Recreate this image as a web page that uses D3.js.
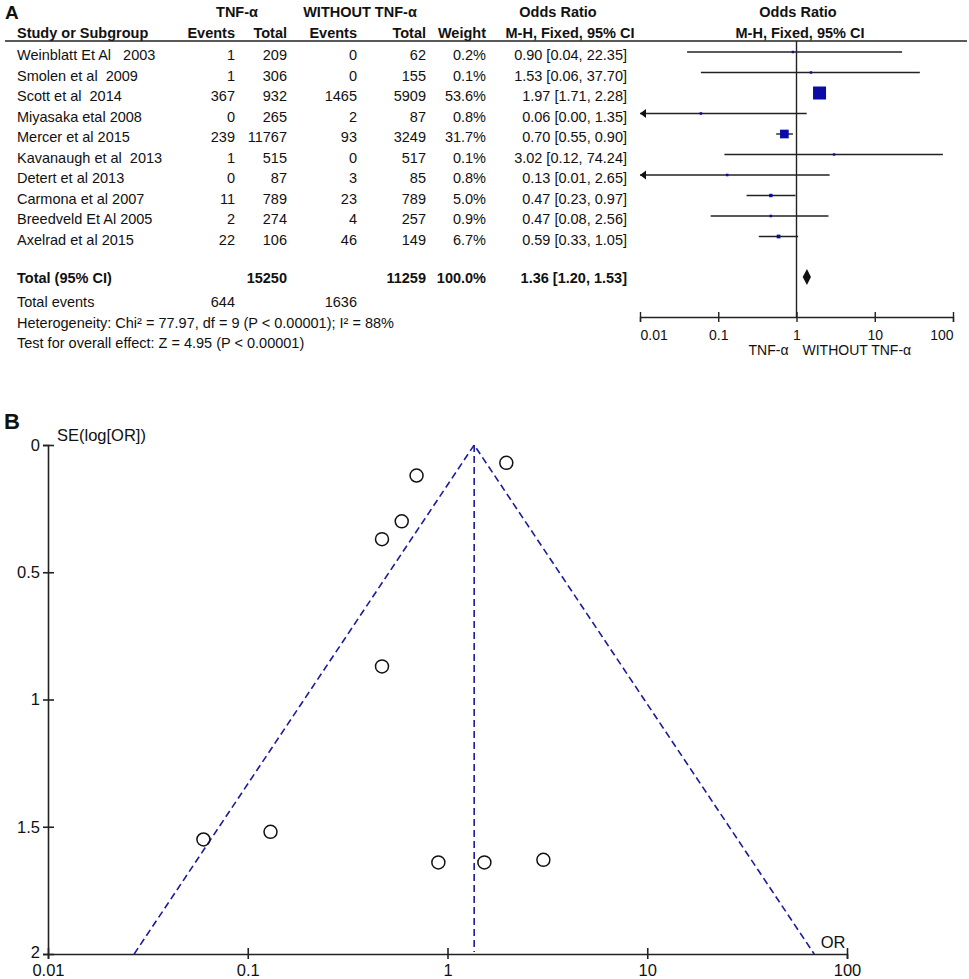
<!DOCTYPE html>
<html>
<head>
<meta charset="utf-8">
<script src="https://cdn.jsdelivr.net/npm/d3@7.9.0/dist/d3.min.js"></script>
<style>
  body { margin: 0; background: #fff; }
  svg { display: block; font-family: "Liberation Sans", Arial, sans-serif; }
</style>
</head>
<body>
<div id="chart"></div>
<script>
// --- data ---
const studies = [
  'Weinblatt Et Al   2003', 'Smolen et al  2009', 'Scott et al  2014',
  'Miyasaka etal 2008', 'Mercer et al 2015', 'Kavanaugh et al  2013',
  'Detert et al 2013', 'Carmona et al 2007', 'Breedveld Et Al 2005',
  'Axelrad et al 2015',
];
const tnfEvents = [1, 1, 367, 0, 239, 1, 0, 11, 2, 22];
const tnfTotal = [209, 306, 932, 265, 11767, 515, 87, 789, 274, 106];
const ctrlEvents = [0, 0, 1465, 2, 93, 0, 3, 23, 4, 46];
const ctrlTotal = [62, 155, 5909, 87, 3249, 517, 85, 789, 257, 149];
const weights = [0.2, 0.1, 53.6, 0.8, 31.7, 0.1, 0.8, 5.0, 0.9, 6.7];
const oddsRatio = [0.90, 1.53, 1.97, 0.06, 0.70, 3.02, 0.13, 0.47, 0.47, 0.59];
const ciLow = [0.04, 0.06, 1.71, 0.00, 0.55, 0.12, 0.01, 0.23, 0.08, 0.33];
const ciHigh = [22.35, 37.70, 2.28, 1.35, 0.90, 74.24, 2.65, 0.97, 2.56, 1.05];
const seLogOr = [1.64, 1.64, 0.07, 1.55, 0.12, 1.63, 1.52, 0.87, 0.37, 0.30];

const pooled = { or: 1.36, low: 1.20, high: 1.53 };
const totals = { tnfTotal: 15250, ctrlTotal: 11259, weight: '100.0%', tnfEvents: 644, ctrlEvents: 1636 };
const footer = [
  'Heterogeneity: Chi\u00b2 = 77.97, df = 9 (P < 0.00001); I\u00b2 = 88%',
  'Test for overall effect: Z = 4.95 (P < 0.00001)',
];
const forestTicks = [0.01, 0.1, 1, 10, 100];
const funnelXTicks = [0.01, 0.1, 1, 10, 100];
const funnelYTicks = [0, 0.5, 1, 1.5, 2];
const funnelOr = [0.027, 1.36, 68.5];
const funnelSe = [2, 0, 2];

const width = 969;
const height = 979;
const blue = '#0b0ba8';
const dashBlue = '#1b1b9e';

const svg = d3.select('#chart').append('svg')
  .attr('width', width)
  .attr('height', height);

// ================= Panel A : forest plot =================
const A = svg.append('g').attr('font-size', 14.5).attr('fill', '#111');

A.append('text').attr('x', 5).attr('y', 19).attr('font-size', 19)
  .attr('font-weight', 'bold').text('A');

const header1 = [
  { t: 'TNF-\u03b1', x: 237 },
  { t: 'WITHOUT TNF-\u03b1', x: 360 },
  { t: 'Odds Ratio', x: 558 },
  { t: 'Odds Ratio', x: 798 },
];
A.selectAll('.h1').data(header1).join('text')
  .attr('x', (d) => d.x).attr('y', 17)
  .attr('text-anchor', 'middle').attr('font-weight', 'bold')
  .text((d) => d.t);

const header2 = [
  { t: 'Study or Subgroup', x: 17, a: 'start' },
  { t: 'Events', x: 235, a: 'end' },
  { t: 'Total', x: 287, a: 'end' },
  { t: 'Events', x: 357, a: 'end' },
  { t: 'Total', x: 426, a: 'end' },
  { t: 'Weight', x: 486, a: 'end' },
  { t: 'M-H, Fixed, 95% CI', x: 570, a: 'middle' },
  { t: 'M-H, Fixed, 95% CI', x: 800, a: 'middle' },
];
A.selectAll('.h2').data(header2).join('text')
  .attr('x', (d) => d.x).attr('y', 37.5)
  .attr('text-anchor', (d) => d.a).attr('font-weight', 'bold')
  .text((d) => d.t);

A.append('line').attr('x1', 5).attr('x2', 967).attr('y1', 41).attr('y2', 41)
  .attr('stroke', '#222').attr('stroke-width', 1.6);

const rowBase = (i) => 60 + i * 20.5;
const rows = studies.map((s, i) => ({
  i, study: s,
  cells: [
    tnfEvents[i], tnfTotal[i], ctrlEvents[i], ctrlTotal[i],
    weights[i].toFixed(1) + '%',
    `${oddsRatio[i].toFixed(2)} [${ciLow[i].toFixed(2)}, ${ciHigh[i].toFixed(2)}]`,
  ],
}));
const colRight = [235, 287, 357, 426, 486, 627];

const rowG = A.selectAll('.row').data(rows).join('g')
  .attr('transform', (d) => `translate(0,${rowBase(d.i)})`);
rowG.append('text').attr('x', 17).text((d) => d.study)
  .style('white-space', 'pre');
rowG.selectAll('.cell').data((d) => d.cells).join('text')
  .attr('x', (d, j) => colRight[j]).attr('text-anchor', 'end')
  .text((d) => d);

const totalY = 283;
const totalCells = [
  { t: 'Total (95% CI)', x: 17, a: 'start' },
  { t: totals.tnfTotal, x: 287, a: 'end' },
  { t: totals.ctrlTotal, x: 426, a: 'end' },
  { t: totals.weight, x: 486, a: 'end' },
  { t: `${pooled.or.toFixed(2)} [${pooled.low.toFixed(2)}, ${pooled.high.toFixed(2)}]`, x: 627, a: 'end' },
];
A.selectAll('.tot').data(totalCells).join('text')
  .attr('x', (d) => d.x).attr('y', totalY).attr('text-anchor', (d) => d.a)
  .attr('font-weight', 'bold').text((d) => d.t);

const eventsCells = [
  { t: 'Total events', x: 17, a: 'start' },
  { t: totals.tnfEvents, x: 235, a: 'end' },
  { t: totals.ctrlEvents, x: 357, a: 'end' },
];
A.selectAll('.ev').data(eventsCells).join('text')
  .attr('x', (d) => d.x).attr('y', 307).attr('text-anchor', (d) => d.a)
  .text((d) => d.t);

A.selectAll('.foot').data(footer).join('text')
  .attr('x', 17).attr('y', (d, i) => 327.5 + i * 20.5)
  .text((d) => d);

// forest graphic
const xF = d3.scaleLog().domain([0.01, 100]).range([640, 953]).clamp(true);
const axisYF = 317;
const F = svg.append('g');

F.append('line').attr('x1', xF(1)).attr('x2', xF(1)).attr('y1', 41).attr('y2', axisYF)
  .attr('stroke', '#222').attr('stroke-width', 1.4);

const side = d3.scaleLinear().domain([0, 53.6]).range([2.4, 13]);
const plotRows = F.selectAll('.pr').data(rows).join('g')
  .attr('transform', (d) => `translate(0,${rowBase(d.i) - 8})`);
plotRows.append('line')
  .attr('x1', (d) => xF(Math.max(ciLow[d.i], 0.01)))
  .attr('x2', (d) => xF(ciHigh[d.i]))
  .attr('stroke', '#222').attr('stroke-width', 1.4);
plotRows.filter((d) => ciLow[d.i] <= 0.01).append('path')
  .attr('d', `M${xF(0.01)},0 L${xF(0.01) + 6},-4.5 L${xF(0.01) + 6},4.5 Z`)
  .attr('fill', '#111');
plotRows.append('rect')
  .attr('x', (d) => xF(oddsRatio[d.i]) - side(weights[d.i]) / 2)
  .attr('y', (d) => -side(weights[d.i]) / 2)
  .attr('width', (d) => side(weights[d.i]))
  .attr('height', (d) => side(weights[d.i]))
  .attr('fill', blue);

const dy = 277;
F.append('path')
  .attr('d', `M${xF(pooled.low)},${dy} L${xF(pooled.or)},${dy - 8} L${xF(pooled.high)},${dy} L${xF(pooled.or)},${dy + 8} Z`)
  .attr('fill', '#111');

const fAxis = F.append('g').attr('transform', `translate(0,${axisYF})`)
  .call(d3.axisBottom(xF).tickValues(forestTicks).tickFormat((d) => String(d)).tickSize(5));
fAxis.select('.domain').attr('stroke', '#222').attr('stroke-width', 1.4);
fAxis.selectAll('.tick line').attr('y1', -5).attr('y2', 5).attr('stroke', '#222').attr('stroke-width', 1.4);
fAxis.selectAll('.tick text').attr('y', 13).attr('dy', '0.71em')
  .attr('font-family', '"Liberation Sans", Arial, sans-serif')
  .attr('font-size', 14).attr('fill', '#111')
  .attr('text-anchor', (d, i) => (i === 0 ? 'start' : i === forestTicks.length - 1 ? 'end' : 'middle'));

F.append('text').attr('x', xF(1) - 8).attr('y', 355).attr('text-anchor', 'end')
  .attr('font-size', 14).attr('fill', '#111').text('TNF-\u03b1');
F.append('text').attr('x', xF(1) + 6).attr('y', 355).attr('text-anchor', 'start')
  .attr('font-size', 14).attr('fill', '#111').text('WITHOUT TNF-\u03b1');

// ================= Panel B : funnel plot =================
const xB = d3.scaleLog().domain([0.01, 100]).range([48, 847]);
const yB = d3.scaleLinear().domain([0, 2]).range([445, 954]);
const B = svg.append('g');

B.append('text').attr('x', 4).attr('y', 429).attr('font-size', 22)
  .attr('font-weight', 'bold').attr('fill', '#111').text('B');

const yAxisB = B.append('g').attr('transform', `translate(${xB(0.01)},0)`)
  .call(d3.axisLeft(yB).tickValues(funnelYTicks).tickFormat((d) => String(d)).tickSize(5));
yAxisB.select('.domain').attr('stroke', '#222').attr('stroke-width', 1.6);
yAxisB.selectAll('.tick line').attr('x1', -5).attr('x2', 6).attr('stroke', '#222').attr('stroke-width', 1.6);
yAxisB.selectAll('.tick text').attr('x', -8).attr('dy', (d) => (d === 2 ? '0.2em' : '0.32em'))
  .attr('font-family', '"Liberation Sans", Arial, sans-serif')
  .attr('font-size', 16.5).attr('fill', '#111');

const xAxisB = B.append('g').attr('transform', `translate(0,${yB(2)})`)
  .call(d3.axisBottom(xB).tickValues(funnelXTicks).tickFormat((d) => String(d)).tickSize(5));
xAxisB.select('.domain').attr('stroke', '#222').attr('stroke-width', 1.6);
xAxisB.selectAll('.tick line').attr('y1', -6).attr('y2', 5).attr('stroke', '#222').attr('stroke-width', 1.6);
xAxisB.selectAll('.tick text').attr('y', 10)
  .attr('font-family', '"Liberation Sans", Arial, sans-serif')
  .attr('font-size', 16.5).attr('fill', '#111');

B.append('text').attr('x', 57).attr('y', 441).attr('font-size', 16.5)
  .attr('fill', '#111').text('SE(log[OR])');
B.append('text').attr('x', 833).attr('y', 948).attr('text-anchor', 'middle')
  .attr('font-size', 16.5).attr('fill', '#111').text('OR');

const funnelPts = funnelOr.map((o, i) => [xB(o), yB(funnelSe[i])]);
B.append('path').attr('d', d3.line()(funnelPts))
  .attr('fill', 'none').attr('stroke', dashBlue).attr('stroke-width', 1.6)
  .attr('stroke-dasharray', '7,4');
B.append('line')
  .attr('x1', xB(pooled.or)).attr('x2', xB(pooled.or))
  .attr('y1', yB(0)).attr('y2', yB(2) - 2)
  .attr('stroke', dashBlue).attr('stroke-width', 1.6).attr('stroke-dasharray', '7,4');

B.selectAll('.pt').data(oddsRatio).join('circle')
  .attr('cx', (d) => xB(d))
  .attr('cy', (d, i) => yB(seLogOr[i]))
  .attr('r', 6.5)
  .attr('fill', 'none').attr('stroke', '#111').attr('stroke-width', 1.5);
</script>
</body>
</html>
